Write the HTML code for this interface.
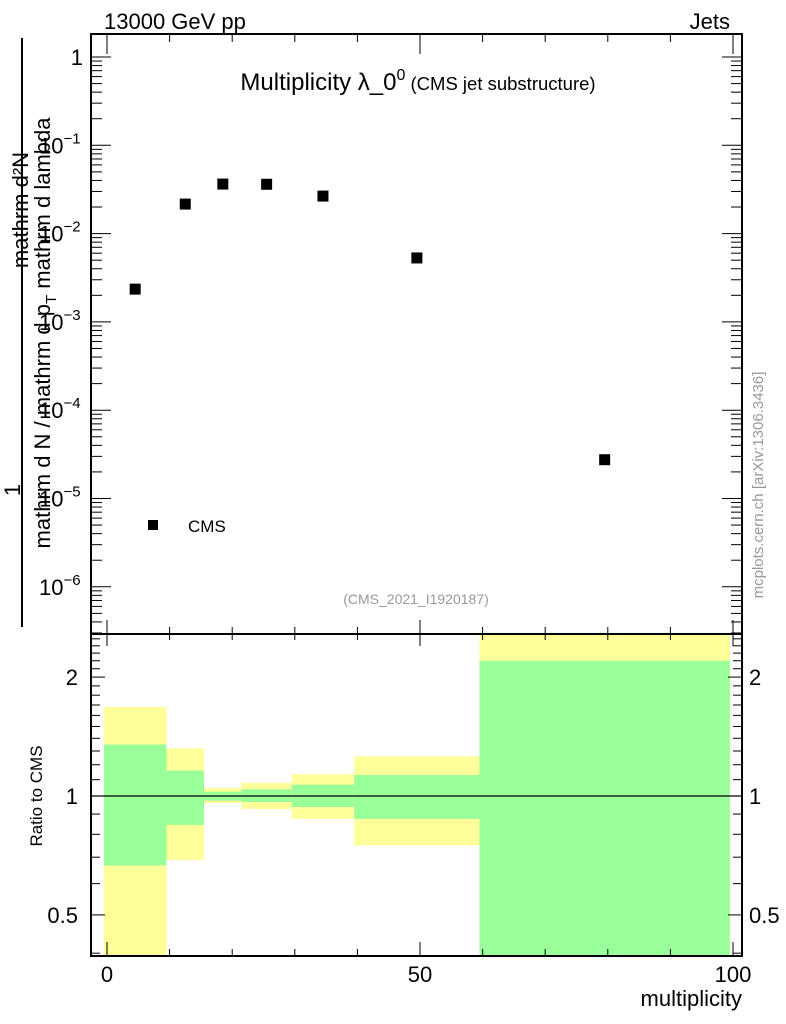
<!DOCTYPE html>
<html><head><meta charset="utf-8"><style>
body{margin:0;background:#fff;}
svg{display:block;font-family:"Liberation Sans",sans-serif;}
</style></head><body>
<svg id="c" width="786" height="1024" viewBox="0 0 786 1024">
<rect x="0" y="0" width="786" height="1024" fill="#fff"/>
<g id="ratio"></g>
<g id="main"></g>
<g id="axes"></g>
<text x="104" y="29" font-size="22">13000 GeV pp</text>
<text x="730" y="29" font-size="22" text-anchor="end">Jets</text>
<text x="418" y="90" font-size="24" text-anchor="middle">Multiplicity λ_0<tspan dy="-10" font-size="16">0</tspan><tspan dy="10" font-size="18.5"> (CMS jet substructure)</tspan></text>
<rect x="148" y="520" width="10" height="10" fill="#000"/>
<text x="188" y="532" font-size="17">CMS</text>
<text x="416" y="604" font-size="14" fill="#999" text-anchor="middle">(CMS_2021_I1920187)</text>
<text transform="translate(763,485) rotate(-90)" font-size="15" fill="#999" text-anchor="middle">mcplots.cern.ch [arXiv:1306.3436]</text>
<g>
<line x1="22" y1="38" x2="22" y2="627" stroke="#000" stroke-width="2"/>
<text transform="translate(28,210) rotate(-90)" font-size="22" text-anchor="middle">mathrm d²N</text>
<text transform="translate(20,490) rotate(-90)" font-size="22" text-anchor="middle">1</text>
<text transform="translate(50,333) rotate(-90)" font-size="22" text-anchor="middle">mathrm d N / mathrm d p<tspan dy="6" font-size="15">T</tspan><tspan dy="-6"> mathrm d lambda</tspan></text>
</g>
<text transform="translate(42,796) rotate(-90)" font-size="17" text-anchor="middle">Ratio to CMS</text>
<text x="742" y="1006" font-size="22" text-anchor="end">multiplicity</text>
</svg>
<script>
const xs=[4.5,12.5,18.5,25.5,34.5,49.5,79.5];
const ys=[0.00235,0.0216,0.0364,0.0362,0.0266,0.0053,0.0000275];
const edges=[-0.5,9.5,15.5,21.5,29.5,39.5,59.5,99.5];
const yelHi=[1.68,1.32,1.047,1.08,1.135,1.26,3.0];
const yelLo=[0.3,0.689,0.96,0.927,0.875,0.75,0.3];
const grnHi=[1.35,1.16,1.025,1.04,1.068,1.13,2.2];
const grnLo=[0.667,0.845,0.973,0.966,0.938,0.875,0.3];
const xTicks=[0,50,100];
const yMainTicks=[0,-1,-2,-3,-4,-5,-6];
const yRatioTicks=[0.5,1,2];
const NS='http://www.w3.org/2000/svg';
const L=91,R=742,T=34,M=634,B=956;
const X=v=>107+6.26*v;
const YM=v=>57-88.3*Math.log10(v);
const YR=r=>796-395*Math.log10(r);
function mk(tag,attrs,parent){const e=document.createElementNS(NS,tag);for(const k in attrs)e.setAttribute(k,attrs[k]);parent.appendChild(e);return e;}
const gR=document.getElementById('ratio'),gM=document.getElementById('main'),gA=document.getElementById('axes');
const clipR=v=>Math.min(Math.max(YR(v),M),B);
for(let i=0;i<edges.length-1;i++){
 const x0=X(edges[i]),x1=X(edges[i+1]);
 const y=mk('rect',{x:x0,y:clipR(yelHi[i]),width:x1-x0,height:clipR(yelLo[i])-clipR(yelHi[i]),fill:'#ffff99'},gR);
 
 
 const g=mk('rect',{x:x0,y:clipR(grnHi[i]),width:x1-x0,height:clipR(grnLo[i])-clipR(grnHi[i]),fill:'#99ff99'},gR);
 
 
}
mk('line',{x1:L,y1:YR(1),x2:R,y2:YR(1),stroke:'#000','stroke-width':1.3},gR);
for(let i=0;i<xs.length;i++){
 const p=mk('rect',{x:X(xs[i])-5.5,y:YM(ys[i])-5.5,width:11,height:11,fill:'#000'},gM);
 
 
}
mk('rect',{x:L,y:T,width:R-L,height:M-T,fill:'none',stroke:'#000','stroke-width':2},gA);
mk('rect',{x:L,y:M,width:R-L,height:B-M,fill:'none',stroke:'#000','stroke-width':2},gA);
for(let v=0;v<=100;v+=10){
 const maj=v%50===0,x=X(v);
 mk('line',{x1:x,y1:B,x2:x,y2:B-(maj?14:7),stroke:'#000','stroke-width':1},gA);
 mk('line',{x1:x,y1:M,x2:x,y2:M-(maj?14:7),stroke:'#000','stroke-width':1},gA);
 mk('line',{x1:x,y1:M,x2:x,y2:M+(maj?12:6),stroke:'#000','stroke-width':1},gA);
 mk('line',{x1:x,y1:T,x2:x,y2:T+(maj?20:8),stroke:'#000','stroke-width':1},gA);
}
xTicks.forEach(v=>{const t=mk('text',{x:X(v),y:982,'font-size':22,'text-anchor':'middle'},gA);t.textContent=v;
 
 });
for(let e=-7;e<=0;e++){
 for(let m=1;m<10;m++){
  const v=m*Math.pow(10,e),y=YM(v);
  if(y<T||y>M)continue;
  const len=m===1?20:11;
  mk('line',{x1:L,y1:y,x2:L+len,y2:y,stroke:'#000','stroke-width':1},gA);
  mk('line',{x1:R,y1:y,x2:R-len,y2:y,stroke:'#000','stroke-width':1},gA);
 }
}
yMainTicks.forEach(e=>{
 const y=YM(Math.pow(10,e));
 const t=mk('text',{x:83,y:y+8,'font-size':22,'text-anchor':'end'},gA);
 
 
 if(e===0)t.textContent='1';else{t.textContent='10';const s=mk('tspan',{dy:-10,'font-size':15},t);s.textContent='−'+(-e);t.setAttribute('text-anchor','start');t.setAttribute('x',39);}
});
const rmin=[];for(let v=0.4;v<2.6;v+=0.1)rmin.push(+v.toFixed(1));
rmin.forEach(v=>{const y=YR(v);if(y<M||y>B)return;const maj=(v===0.5||v===1||v===2);const len=maj?14:9;
 mk('line',{x1:L,y1:y,x2:L+len,y2:y,stroke:'#000','stroke-width':1},gA);
 mk('line',{x1:R,y1:y,x2:R-len,y2:y,stroke:'#000','stroke-width':1},gA);});
yRatioTicks.forEach(v=>{const y=YR(v);
 const t=mk('text',{x:78,y:y+8,'font-size':22,'text-anchor':'end'},gA);t.textContent=v;
 
 
 const t2=mk('text',{x:749,y:y+8,'font-size':22},gA);t2.textContent=v;
 
 });
</script>
</body></html>
